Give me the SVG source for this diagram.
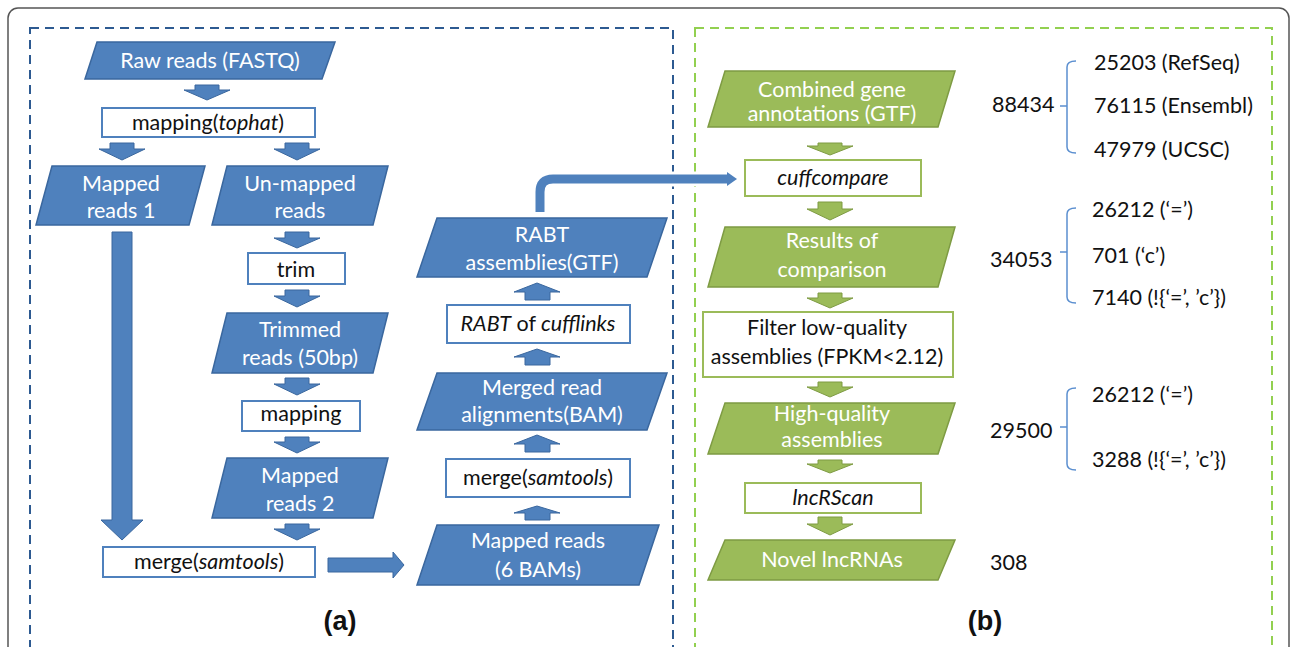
<svg xmlns="http://www.w3.org/2000/svg" width="1292" height="647" viewBox="0 0 1292 647">
<style>
text{font-family:Lato,"Open Sans","Liberation Sans",sans-serif;font-size:21.5px;text-anchor:middle}
.bp{fill:#4F81BD;stroke:#3A679E;stroke-width:1.5}
.bb{fill:#fff;stroke:#4F81BD;stroke-width:2}
.gp{fill:#9BBB59;stroke:#7E9B43;stroke-width:1.5}
.gb{fill:#fff;stroke:#9BBB59;stroke-width:2}
.wt{fill:#fff}
.bt{fill:#111}
.num{fill:#111;text-anchor:start}
.ba{fill:#4F81BD;stroke:#3A679E;stroke-width:1}
.ga{fill:#9BBB59;stroke:#7E9B43;stroke-width:1}
.br{fill:none;stroke:#5B8FD0;stroke-width:1.5}
.lab{font-family:"Liberation Sans",Arial,sans-serif;font-weight:bold;font-size:27px;fill:#111}
</style>
<rect x="8" y="8" width="1281" height="700" rx="10" fill="#fff" stroke="#555" stroke-width="1.5"/>
<rect x="30" y="28" width="643" height="680" fill="none" stroke="#2D5A91" stroke-width="2" stroke-dasharray="9,6"/>
<rect x="695" y="28" width="577" height="680" fill="none" stroke="#92D050" stroke-width="2" stroke-dasharray="9,6"/>

<g id="connectors">
<polygon class="ba" points="195,85 219,85 219,90 230,90 207,100 184,90 195,90"/>
<polygon class="ba" points="110,143 134,143 134,149 145,149 122,160 99,149 110,149"/>
<polygon class="ba" points="285,143 309,143 309,149 320,149 297,160 274,149 285,149"/>
<polygon class="ba" points="285,232 309,232 309,238 320,238 297,248 274,238 285,238"/>
<polygon class="ba" points="285,290 309,290 309,296 320,296 297,307 274,296 285,296"/>
<polygon class="ba" points="285,378 309,378 309,384 320,384 297,395 274,384 285,384"/>
<polygon class="ba" points="285,437 309,437 309,442 320,442 297,453 274,442 285,442"/>
<polygon class="ba" points="285,524 309,524 309,529 320,529 297,540 274,529 285,529"/>
<polygon class="ba" points="112,232 132,232 132,520 143,520 122,540 101,520 112,520"/>
<polygon class="ba" points="328,558 393,558 393,552 404,565 393,578 393,572 328,572"/>
<polygon class="ba" points="525,300 550,300 550,292 560,292 537,283 514,292 525,292"/>
<polygon class="ba" points="525,365 550,365 550,357 560,357 537,349 514,357 525,357"/>
<polygon class="ba" points="525,452 550,452 550,444 560,444 537,435 514,444 525,444"/>
<polygon class="ba" points="525,520 550,520 550,513 560,513 537,506 514,513 525,513"/>
<path d="M540,212 V192 Q540,179 553,179 H728" fill="none" stroke="#fff" stroke-width="15" stroke-linejoin="round"/>
<polygon points="725,168 741,179 725,190" fill="#fff"/>
<path d="M540,212 V192 Q540,179 553,179 H728" fill="none" stroke="#4F81BD" stroke-width="9"/>
<polygon points="727,172 737,179 727,186" fill="#4F81BD"/>
<polygon class="ga" points="818,143 842,143 842,146 853,146 830,155 807,146 818,146"/>
<polygon class="ga" points="818,202 842,202 842,209 853,209 830,220 807,209 818,209"/>
<polygon class="ga" points="818,293 842,293 842,298 853,298 830,308 807,298 818,298"/>
<polygon class="ga" points="818,382 842,382 842,387 853,387 830,397 807,387 818,387"/>
<polygon class="ga" points="818,460 842,460 842,464 853,464 830,473 807,464 818,464"/>
<polygon class="ga" points="818,517 842,517 842,524 853,524 830,535 807,524 818,524"/>
<path class="br" d="M1076,61 Q1067,61 1067,67 V147 Q1067,153 1076,153 M1060,106 H1067"/>
<path class="br" d="M1076,208 Q1067,208 1067,214 V297 Q1067,303 1076,303 M1060,252 H1067"/>
<path class="br" d="M1076,388 Q1067,388 1067,394 V464 Q1067,470 1076,470 M1060,427 H1067"/>
</g>

<g id="n_raw"><polygon class="bp" points="97,42 335,42 322,79 85,79"/><text class="wt" x="210" y="68">Raw reads (FASTQ)</text></g>
<g id="n_tophat"><rect class="bb" x="102" y="108" width="213" height="29"/><text class="bt" x="208" y="130">mapping(<tspan font-style="italic">tophat</tspan>)</text></g>
<g id="n_mapped1"><polygon class="bp" points="52,166 205,166 189,225 36,225"/><text class="wt" x="121" y="191">Mapped</text><text class="wt" x="121" y="218">reads 1</text></g>
<g id="n_unmapped"><polygon class="bp" points="227,166 388,166 373,225 212,225"/><text class="wt" x="300" y="191">Un-mapped</text><text class="wt" x="300" y="218">reads</text></g>
<g id="n_trim"><rect class="bb" x="248" y="253" width="97" height="31"/><text class="bt" x="296" y="277">trim</text></g>
<g id="n_trimmed"><polygon class="bp" points="227,313 388,313 373,373 212,373"/><text class="wt" x="300" y="337">Trimmed</text><text class="wt" x="300" y="365">reads (50bp)</text></g>
<g id="n_mapping"><rect class="bb" x="242" y="401" width="118" height="30"/><text class="bt" x="301" y="421">mapping</text></g>
<g id="n_mapped2"><polygon class="bp" points="227,458 388,458 373,518 212,518"/><text class="wt" x="300" y="483">Mapped</text><text class="wt" x="300" y="511">reads 2</text></g>
<g id="n_merge1"><rect class="bb" x="103" y="547" width="212" height="30"/><text class="bt" x="209" y="569">merge(<tspan font-style="italic">samtools</tspan>)</text></g>
<g id="n_6bams"><polygon class="bp" points="437,525 659,525 639,585 417,585"/><text class="wt" x="538" y="548">Mapped reads</text><text class="wt" x="538" y="577">(6 BAMs)</text></g>
<g id="n_merge2"><rect class="bb" x="446" y="459" width="184" height="38"/><text class="bt" x="538" y="485">merge(<tspan font-style="italic">samtools</tspan>)</text></g>
<g id="n_merged"><polygon class="bp" points="437,373 667,373 647,430 417,430"/><text class="wt" x="542" y="395">Merged read</text><text class="wt" x="542" y="422">alignments(BAM)</text></g>
<g id="n_rabtcuff"><rect class="bb" x="447" y="305" width="183" height="38"/><text class="bt" x="538" y="331"><tspan font-style="italic">RABT</tspan> of <tspan font-style="italic">cufflinks</tspan></text></g>
<g id="n_rabt"><polygon class="bp" points="437,218 667,218 647,277 417,277"/><text class="wt" x="542" y="242">RABT</text><text class="wt" x="542" y="270">assemblies(GTF)</text></g>

<g id="g_comb"><polygon class="gp" points="725,71 955,71 938,127 708,127"/><text class="wt" x="832" y="97">Combined gene</text><text class="wt" x="832" y="121">annotations (GTF)</text></g>
<g id="g_cuff"><rect class="gb" x="745" y="160" width="176" height="36"/><text class="bt" x="833" y="185" font-style="italic">cuffcompare</text></g>
<g id="g_results"><polygon class="gp" points="725,227 955,227 938,287 708,287"/><text class="wt" x="832" y="248">Results of</text><text class="wt" x="832" y="277">comparison</text></g>
<g id="g_filter"><rect class="gb" x="703" y="312" width="250" height="65"/><text class="bt" x="827" y="335">Filter low-quality</text><text class="bt" x="827" y="364">assemblies (FPKM&lt;2.12)</text></g>
<g id="g_hq"><polygon class="gp" points="725,403 955,403 938,454 708,454"/><text class="wt" x="832" y="421">High-quality</text><text class="wt" x="832" y="447">assemblies</text></g>
<g id="g_lnc"><rect class="gb" x="745" y="483" width="176" height="30"/><text class="bt" x="833" y="505" font-style="italic">lncRScan</text></g>
<g id="g_novel"><polygon class="gp" points="725,540 955,540 938,580 708,580"/><text class="wt" x="832" y="567">Novel lncRNAs</text></g>

<g id="counts">
<text class="num" x="992" y="112">88434</text>
<text class="num" x="1094" y="70">25203 (RefSeq)</text>
<text class="num" x="1094" y="113">76115 (Ensembl)</text>
<text class="num" x="1094" y="157">47979 (UCSC)</text>
<text class="num" x="990" y="267">34053</text>
<text class="num" x="1092" y="217">26212 (‘=’)</text>
<text class="num" x="1092" y="263">701 (‘c’)</text>
<text class="num" x="1092" y="305">7140 (!{‘=’, ’c’})</text>
<text class="num" x="990" y="438">29500</text>
<text class="num" x="1092" y="402">26212 (‘=’)</text>
<text class="num" x="1092" y="467">3288 (!{‘=’, ’c’})</text>
<text class="num" x="990" y="570">308</text>
</g>
<text class="lab" x="340" y="630">(a)</text>
<text class="lab" x="985" y="630">(b)</text>
</svg>
